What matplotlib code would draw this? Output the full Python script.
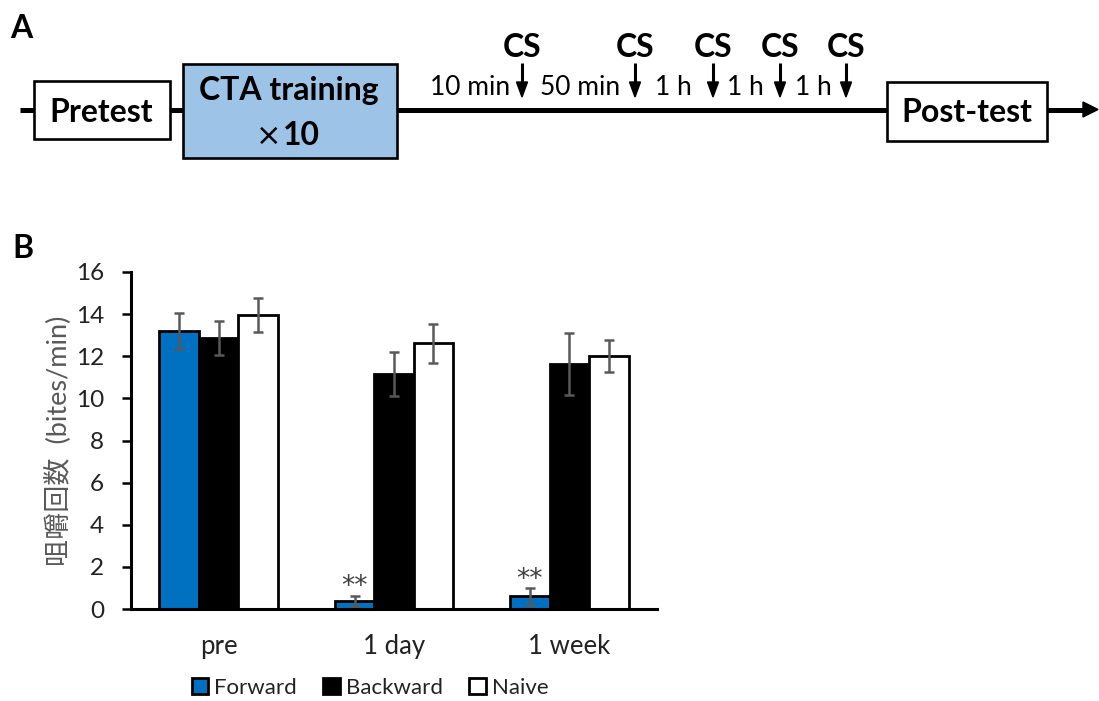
import matplotlib
matplotlib.use('Agg')
import matplotlib.pyplot as plt
from matplotlib.patches import Rectangle, Polygon, Patch
import numpy as np

plt.rcParams['font.family'] = ['Lato', 'Noto Sans CJK JP', 'DejaVu Sans']

# ---- data (panel B) ----
categories = ['pre', '1 day', '1 week']
groups = ['Forward', 'Backward', 'Naive']
forward = [13.2, 0.4, 0.6]
forward_err = [0.87, 0.24, 0.4]
backward = [12.85, 11.15, 11.65]
backward_err = [0.8, 1.06, 1.47]
naive = [13.95, 12.62, 12.0]
naive_err = [0.8, 0.93, 0.75]
significant = [False, True, True]   # ** above Forward
colors = ['#0070C0', '#000000', '#FFFFFF']
ylabel = '咀嚼回数  (bites/min)'

# ---- panel A schedule ----
gaps = ['10 min', '50 min', '1 h', '1 h', '1 h']

fig = plt.figure(figsize=(10.99, 7.01), dpi=100)

# overlay axes in pixel units for the schematic
ax0 = fig.add_axes([0, 0, 1, 1])
ax0.set_xlim(0, 1099)
ax0.set_ylim(701, 0)
ax0.axis('off')

line_y = 109.5
ax0.plot([20, 1085], [line_y, line_y], color='black', lw=3.6, solid_capstyle='butt', zorder=1)
ax0.add_patch(Polygon([(1083, line_y - 7.5), (1098, line_y), (1083, line_y + 7.5)],
                      closed=True, color='black', zorder=2))

def box(x0, x1, y0, y1, fc):
    ax0.add_patch(Rectangle((x0, y0), x1 - x0, y1 - y0, facecolor=fc,
                            edgecolor='black', lw=1.9, zorder=3))

box(34, 170, 81, 139, 'white')
box(183, 397, 64, 158, '#9DC3E6')
box(887, 1047, 82, 141, 'white')

big = 23
ax0.text(101, 122, 'Pretest', fontsize=big, fontweight='bold', ha='center', va='baseline', zorder=4)
ax0.text(289, 100, 'CTA training', fontsize=big, fontweight='bold', ha='center', va='baseline', zorder=4)
ax0.text(281, 145, '×', fontsize=22, family='DejaVu Sans', ha='right', va='baseline', zorder=4)
ax0.text(283, 145, '10', fontsize=big, fontweight='bold', ha='left', va='baseline', zorder=4)
ax0.text(967, 122, 'Post-test', fontsize=big, fontweight='bold', ha='center', va='baseline', zorder=4)

cs_x = [522, 635, 713, 780, 846]
gap_x = [470, 580, 673, 745, 813]
for x in cs_x:
    ax0.text(x, 56.7, 'CS', fontsize=big, fontweight='bold', ha='center', va='baseline')
    ax0.plot([x, x], [63, 85], color='black', lw=2.2, solid_capstyle='butt')
    ax0.add_patch(Polygon([(x - 5.5, 82), (x + 5.5, 82), (x, 97)], closed=True, color='black'))
for x, g in zip(gap_x, gaps):
    ax0.text(x, 95, g, fontsize=19, ha='center', va='baseline')

ax0.text(10, 38, 'A', fontsize=big, fontweight='bold', ha='left', va='baseline')
ax0.text(12, 258, 'B', fontsize=big, fontweight='bold', ha='left', va='baseline')

# ---- panel B bar chart ----
ax = fig.add_axes([131 / 1099, 92 / 701, 526 / 1099, 337 / 701])
x = np.arange(len(categories))
w = 0.225
series = [(forward, forward_err), (backward, backward_err), (naive, naive_err)]
for i, (vals, errs) in enumerate(series):
    ax.bar(x + (i - 1) * w, vals, w, color=colors[i], edgecolor='black', linewidth=2,
           yerr=errs, ecolor='#595959', capsize=3.5,
           error_kw=dict(elinewidth=1.8, capthick=1.8), zorder=2)

for xi, sig, v, e in zip(x, significant, forward, forward_err):
    if sig:
        ax.annotate('**', (xi - w, v + e), xytext=(0, 1), textcoords='offset points',
                    ha='center', va='baseline', fontsize=19, family='DejaVu Sans',
                    color='#404040')

ax.set_xlim(-0.5, 2.5)
ax.set_ylim(0, 16)
ax.set_yticks(np.arange(0, 17, 2))
ax.set_xticks(x)
ax.set_xticklabels(categories)
for s in ['top', 'right']:
    ax.spines[s].set_visible(False)
for s in ['left', 'bottom']:
    ax.spines[s].set_linewidth(2.2)
ax.tick_params(axis='y', direction='out', length=6.5, width=1.8, pad=13, labelsize=17.5,
               labelcolor='#222222')
ax.tick_params(axis='x', length=0, pad=18, labelsize=18.5, labelcolor='#222222')
ax.set_ylabel(ylabel, fontsize=19.5, color='#595959', va='center')
ax.yaxis.set_label_coords(-0.139, 0.5)

handles = [Patch(facecolor=c, edgecolor='black', linewidth=2) for c in colors]
fig.legend(handles, groups, loc='center', bbox_to_anchor=(370 / 1099, 1 - 688 / 701),
           ncol=3, frameon=False, fontsize=16, handlelength=0.75, handleheight=0.75,
           handletextpad=0.25, columnspacing=1.2, labelcolor='#222222')

fig.savefig('out.png', dpi=100)
